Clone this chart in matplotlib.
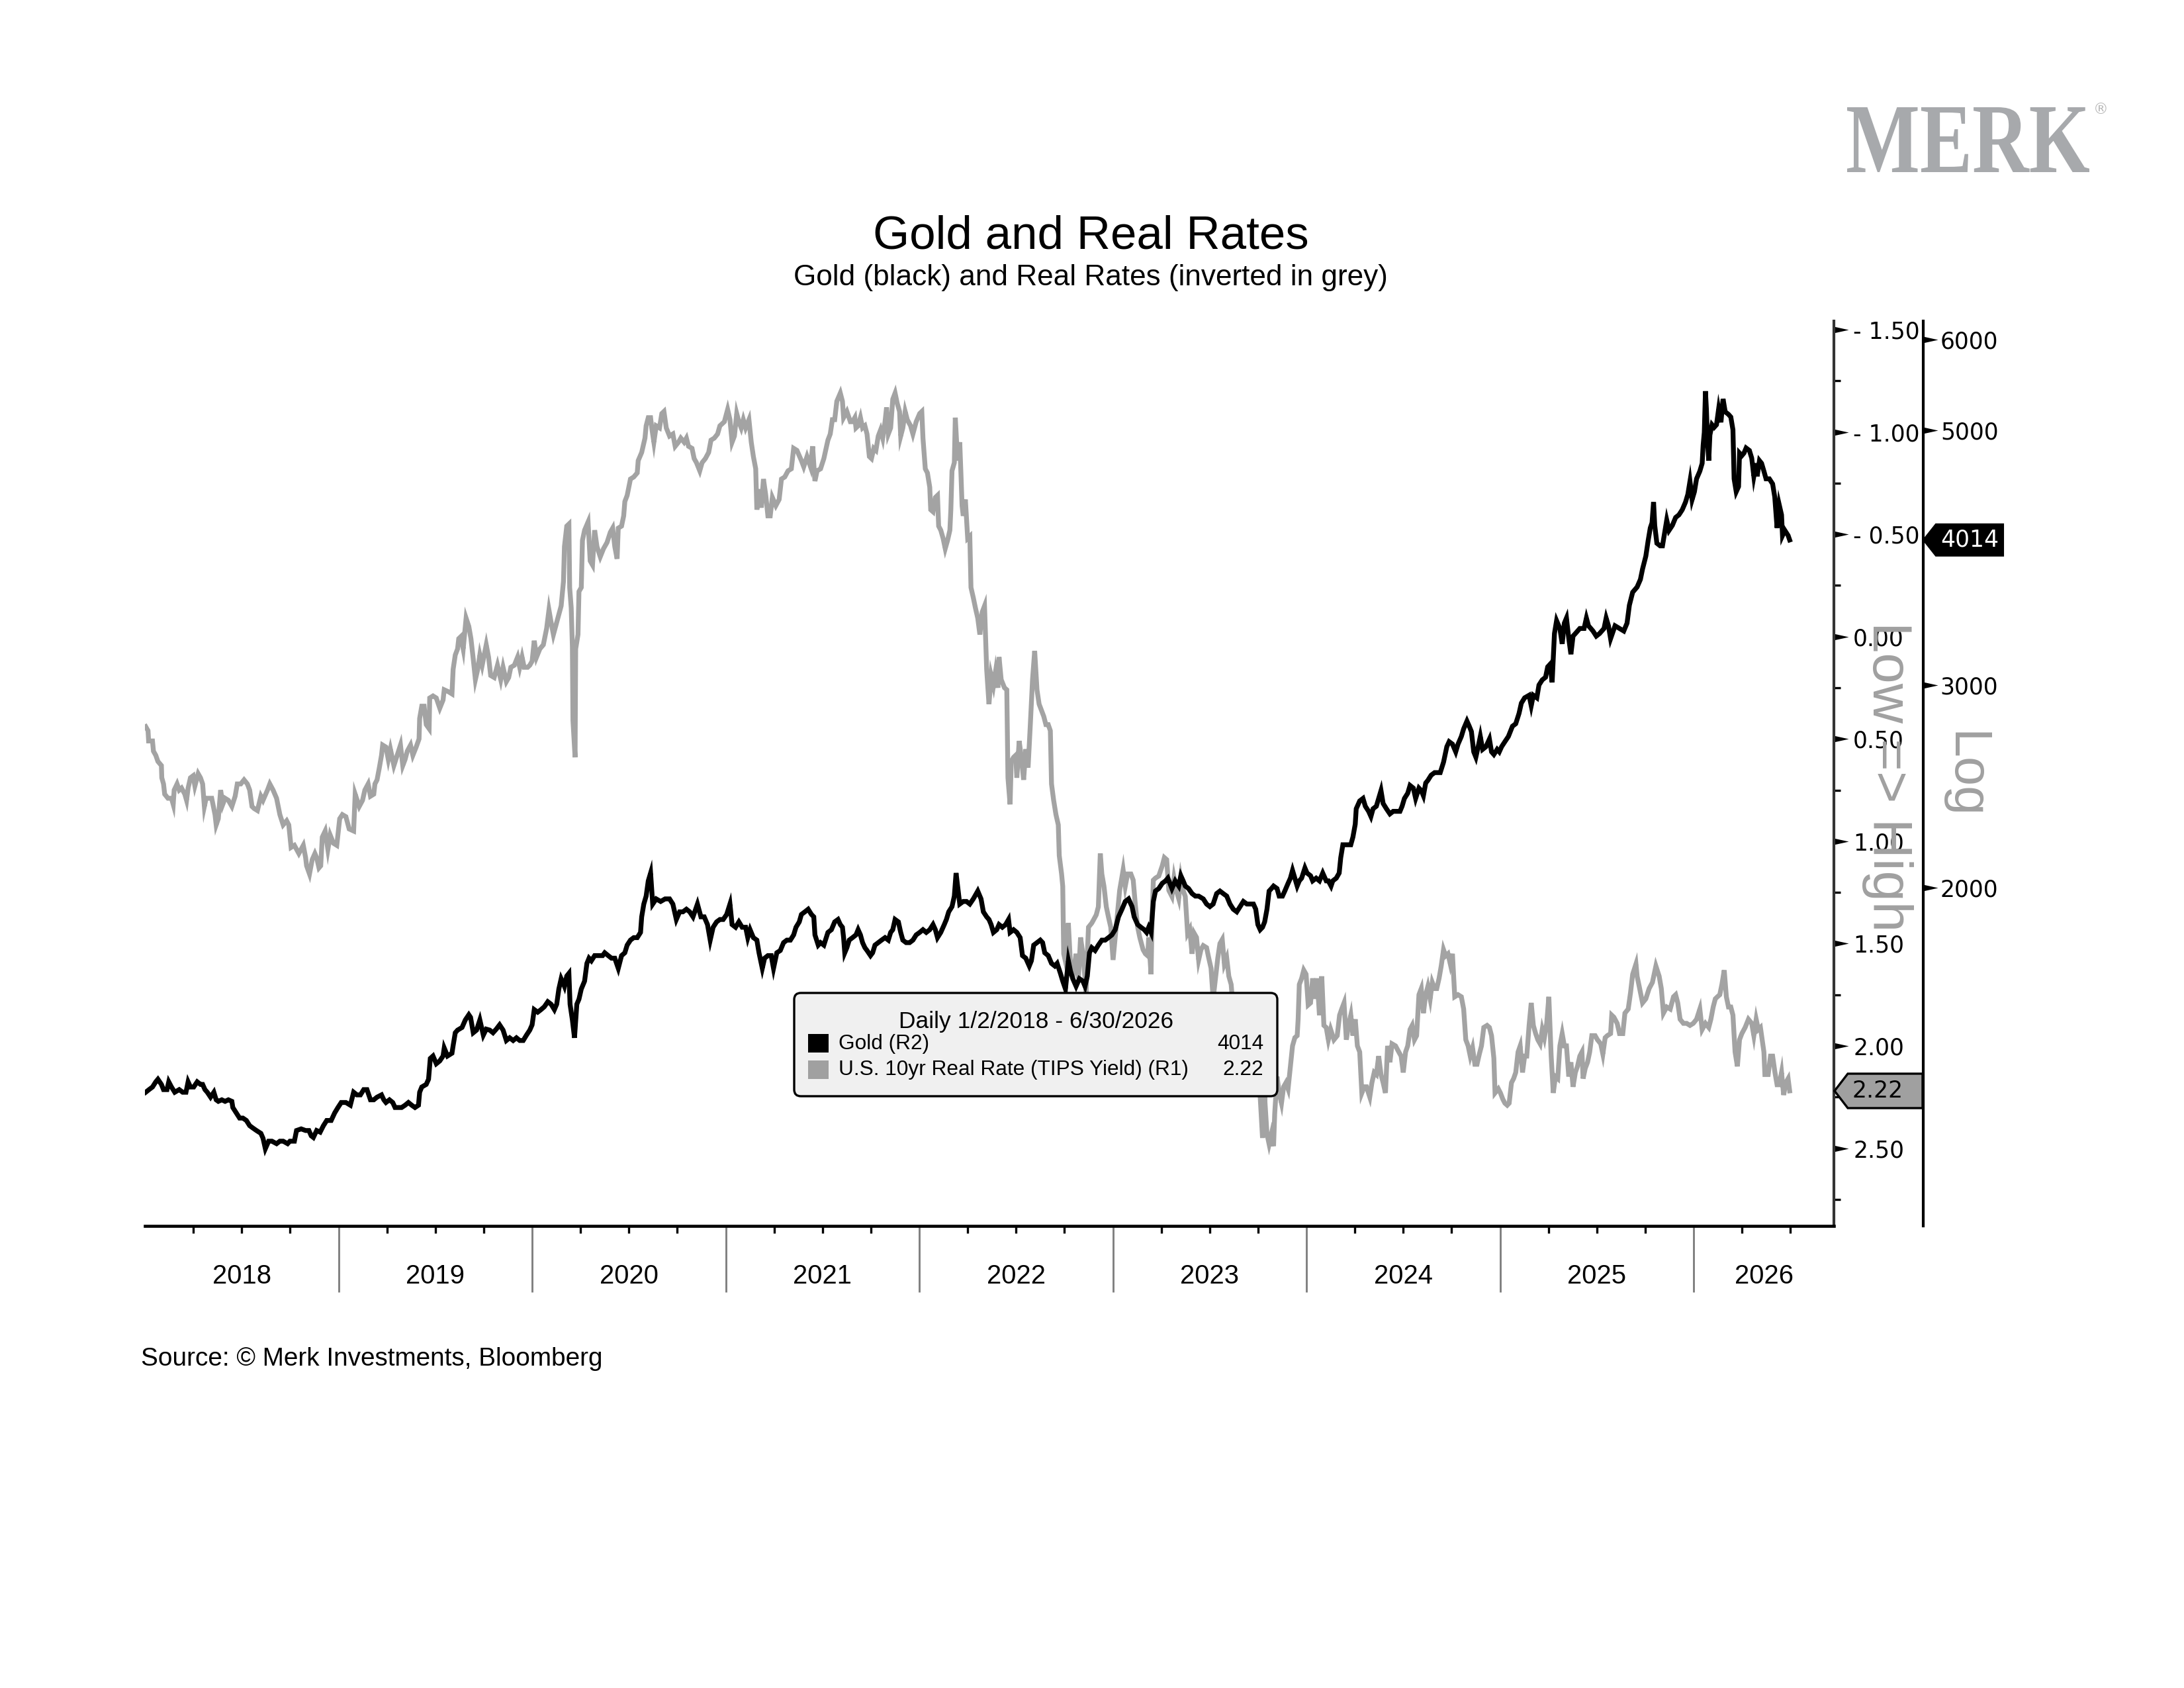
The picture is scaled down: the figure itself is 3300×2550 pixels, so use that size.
#!/usr/bin/python3

import numpy as np
import matplotlib
matplotlib.use("Agg")
import matplotlib.pyplot as plt
from matplotlib import font_manager
from matplotlib.path import Path
from matplotlib.patches import Polygon, FancyBboxPatch, Rectangle, PathPatch
from matplotlib.textpath import TextPath
from matplotlib.font_manager import FontProperties
from matplotlib.transforms import Affine2D, IdentityTransform
from matplotlib.ticker import FixedLocator, FuncFormatter, NullLocator, NullFormatter

#  U.S. 10yr real rate (TIPS yield) (decimal year, %)
rate_year = [
  2018.004, 2018.016, 2018.019, 2018.039, 2018.044, 2018.056, 2018.067, 2018.085, 2018.087, 2018.096,
  2018.102, 2018.119, 2018.137, 2018.146, 2018.151, 2018.166, 2018.177, 2018.189, 2018.206, 2018.215,
  2018.223, 2018.235, 2018.249, 2018.258, 2018.275, 2018.287, 2018.298, 2018.307, 2018.316, 2018.333,
  2018.345, 2018.362, 2018.368, 2018.379, 2018.391, 2018.402, 2018.414, 2018.431, 2018.449, 2018.466,
  2018.477, 2018.495, 2018.512, 2018.529, 2018.541, 2018.553, 2018.564, 2018.581, 2018.599, 2018.610,
  2018.633, 2018.645, 2018.662, 2018.680, 2018.697, 2018.714, 2018.732, 2018.743, 2018.755, 2018.772,
  2018.795, 2018.818, 2018.830, 2018.835, 2018.850, 2018.864, 2018.878, 2018.887, 2018.899, 2018.908,
  2018.916, 2018.931, 2018.945, 2018.957, 2018.974, 2018.991, 2019.006, 2019.020, 2019.038, 2019.055,
  2019.078, 2019.086, 2019.107, 2019.124, 2019.136, 2019.153, 2019.165, 2019.182, 2019.188, 2019.199,
  2019.211, 2019.222, 2019.228, 2019.245, 2019.257, 2019.268, 2019.286, 2019.303, 2019.320, 2019.332,
  2019.344, 2019.355, 2019.372, 2019.384, 2019.401, 2019.416, 2019.419, 2019.430, 2019.442, 2019.453,
  2019.468, 2019.471, 2019.488, 2019.505, 2019.523, 2019.540, 2019.546, 2019.569, 2019.586, 2019.592,
  2019.603, 2019.615, 2019.621, 2019.632, 2019.644, 2019.659, 2019.673, 2019.684, 2019.696, 2019.707,
  2019.719, 2019.730, 2019.742, 2019.763, 2019.775, 2019.786, 2019.804, 2019.821, 2019.838, 2019.850,
  2019.867, 2019.879, 2019.890, 2019.908, 2019.925, 2019.936, 2019.948, 2019.959, 2019.977, 2019.988,
  2020.000, 2020.011, 2020.023, 2020.040, 2020.058, 2020.075, 2020.087, 2020.098, 2020.110, 2020.133,
  2020.150, 2020.162, 2020.167, 2020.179, 2020.190, 2020.194, 2020.202, 2020.208, 2020.211, 2020.222,
  2020.225, 2020.237, 2020.242, 2020.254, 2020.260, 2020.271, 2020.289, 2020.300, 2020.312, 2020.323,
  2020.335, 2020.352, 2020.369, 2020.387, 2020.404, 2020.416, 2020.427, 2020.439, 2020.445, 2020.462,
  2020.473, 2020.479, 2020.491, 2020.508, 2020.525, 2020.543, 2020.548, 2020.566, 2020.583, 2020.589,
  2020.600, 2020.612, 2020.618, 2020.629, 2020.641, 2020.658, 2020.670, 2020.681, 2020.693, 2020.710,
  2020.727, 2020.739, 2020.756, 2020.768, 2020.785, 2020.797, 2020.808, 2020.826, 2020.837, 2020.849,
  2020.866, 2020.878, 2020.895, 2020.912, 2020.924, 2020.941, 2020.958, 2020.970, 2020.993, 2021.010,
  2021.022, 2021.033, 2021.045, 2021.057, 2021.068, 2021.080, 2021.091, 2021.103, 2021.120, 2021.132,
  2021.143, 2021.155, 2021.161, 2021.172, 2021.184, 2021.195, 2021.207, 2021.218, 2021.230, 2021.241,
  2021.259, 2021.276, 2021.288, 2021.305, 2021.322, 2021.339, 2021.351, 2021.368, 2021.391, 2021.403,
  2021.420, 2021.438, 2021.449, 2021.461, 2021.472, 2021.490, 2021.507, 2021.528, 2021.540, 2021.551,
  2021.563, 2021.574, 2021.592, 2021.603, 2021.609, 2021.626, 2021.644, 2021.655, 2021.667, 2021.673,
  2021.684, 2021.696, 2021.707, 2021.719, 2021.730, 2021.742, 2021.753, 2021.765, 2021.776, 2021.788,
  2021.800, 2021.811, 2021.823, 2021.831, 2021.840, 2021.852, 2021.863, 2021.875, 2021.886, 2021.898,
  2021.904, 2021.915, 2021.927, 2021.938, 2021.955, 2021.967, 2021.984, 2022.002, 2022.013, 2022.019,
  2022.031, 2022.042, 2022.054, 2022.059, 2022.071, 2022.083, 2022.094, 2022.100, 2022.111, 2022.123,
  2022.134, 2022.146, 2022.158, 2022.163, 2022.169, 2022.181, 2022.186, 2022.198, 2022.209, 2022.215,
  2022.221, 2022.227, 2022.238, 2022.250, 2022.261, 2022.267, 2022.279, 2022.290, 2022.302, 2022.313,
  2022.325, 2022.337, 2022.348, 2022.360, 2022.371, 2022.383, 2022.394, 2022.406, 2022.412, 2022.423,
  2022.440, 2022.452, 2022.458, 2022.469, 2022.475, 2022.487, 2022.498, 2022.504, 2022.516, 2022.527,
  2022.539, 2022.550, 2022.562, 2022.573, 2022.585, 2022.596, 2022.608, 2022.619, 2022.631, 2022.643,
  2022.654, 2022.666, 2022.677, 2022.683, 2022.694, 2022.706, 2022.718, 2022.723, 2022.735, 2022.741,
  2022.746, 2022.758, 2022.770, 2022.781, 2022.798, 2022.810, 2022.822, 2022.833, 2022.845, 2022.856,
  2022.862, 2022.868, 2022.874, 2022.891, 2022.914, 2022.925, 2022.935, 2022.943, 2022.954, 2022.966,
  2022.977, 2022.989, 2023.001, 2023.012, 2023.024, 2023.035, 2023.053, 2023.064, 2023.076, 2023.093,
  2023.105, 2023.116, 2023.128, 2023.139, 2023.156, 2023.168, 2023.180, 2023.185, 2023.197, 2023.203,
  2023.209, 2023.220, 2023.237, 2023.255, 2023.266, 2023.278, 2023.289, 2023.305, 2023.316, 2023.328,
  2023.340, 2023.351, 2023.363, 2023.374, 2023.386, 2023.397, 2023.409, 2023.420, 2023.432, 2023.443,
  2023.455, 2023.467, 2023.484, 2023.495, 2023.507, 2023.518, 2023.530, 2023.542, 2023.553, 2023.565,
  2023.576, 2023.588, 2023.599, 2023.611, 2023.617, 2023.628, 2023.640, 2023.651, 2023.669, 2023.680,
  2023.692, 2023.703, 2023.715, 2023.726, 2023.738, 2023.749, 2023.761, 2023.773, 2023.784, 2023.796,
  2023.807, 2023.819, 2023.830, 2023.836, 2023.848, 2023.859, 2023.871, 2023.882, 2023.894, 2023.905,
  2023.917, 2023.928, 2023.940, 2023.952, 2023.957, 2023.963, 2023.975, 2023.986, 2023.998, 2024.009,
  2024.021, 2024.032, 2024.044, 2024.055, 2024.067, 2024.079, 2024.090, 2024.102, 2024.113, 2024.125,
  2024.142, 2024.159, 2024.171, 2024.182, 2024.194, 2024.206, 2024.217, 2024.229, 2024.240, 2024.252,
  2024.263, 2024.275, 2024.286, 2024.298, 2024.310, 2024.327, 2024.338, 2024.350, 2024.361, 2024.373,
  2024.385, 2024.396, 2024.408, 2024.419, 2024.431, 2024.442, 2024.460, 2024.477, 2024.489, 2024.500,
  2024.512, 2024.523, 2024.535, 2024.546, 2024.558, 2024.569, 2024.581, 2024.593, 2024.604, 2024.616,
  2024.627, 2024.639, 2024.650, 2024.662, 2024.673, 2024.685, 2024.696, 2024.708, 2024.719, 2024.731,
  2024.743, 2024.754, 2024.766, 2024.783, 2024.800, 2024.812, 2024.823, 2024.835, 2024.846, 2024.858,
  2024.870, 2024.881, 2024.893, 2024.904, 2024.916, 2024.933, 2024.945, 2024.956, 2024.968, 2024.974,
  2024.991, 2025.002, 2025.014, 2025.025, 2025.037, 2025.047, 2025.059, 2025.070, 2025.081, 2025.093,
  2025.104, 2025.116, 2025.127, 2025.138, 2025.150, 2025.161, 2025.172, 2025.184, 2025.195, 2025.207,
  2025.218, 2025.229, 2025.241, 2025.252, 2025.264, 2025.275, 2025.286, 2025.298, 2025.309, 2025.321,
  2025.332, 2025.343, 2025.355, 2025.366, 2025.377, 2025.389, 2025.400, 2025.412, 2025.423, 2025.429,
  2025.440, 2025.452, 2025.463, 2025.474, 2025.491, 2025.503, 2025.520, 2025.531, 2025.543, 2025.554,
  2025.571, 2025.577, 2025.588, 2025.605, 2025.617, 2025.634, 2025.645, 2025.662, 2025.674, 2025.685,
  2025.702, 2025.708, 2025.719, 2025.736, 2025.753, 2025.770, 2025.787, 2025.805, 2025.822, 2025.833,
  2025.844, 2025.861, 2025.879, 2025.896, 2025.907, 2025.918, 2025.930, 2025.947, 2025.964, 2025.981,
  2025.998, 2026.015, 2026.032, 2026.044, 2026.061, 2026.078, 2026.089, 2026.101, 2026.112, 2026.123,
  2026.135, 2026.146, 2026.158, 2026.169, 2026.180, 2026.192, 2026.203, 2026.214, 2026.226, 2026.237,
  2026.249, 2026.266, 2026.283, 2026.300, 2026.311, 2026.323, 2026.334, 2026.345, 2026.363, 2026.368,
  2026.385, 2026.397, 2026.408, 2026.420, 2026.431, 2026.442, 2026.454, 2026.465, 2026.476, 2026.488,
  2026.496]
rate_val = [
  0.44, 0.46, 0.51, 0.51, 0.56, 0.58, 0.61, 0.63, 0.69, 0.72,
  0.77, 0.79, 0.79, 0.82, 0.75, 0.72, 0.75, 0.74, 0.77, 0.80,
  0.74, 0.69, 0.68, 0.73, 0.67, 0.69, 0.72, 0.83, 0.79, 0.79,
  0.79, 0.87, 0.92, 0.89, 0.75, 0.82, 0.79, 0.80, 0.83, 0.78,
  0.72, 0.72, 0.70, 0.72, 0.75, 0.83, 0.84, 0.85, 0.78, 0.80,
  0.75, 0.72, 0.75, 0.79, 0.87, 0.92, 0.90, 0.92, 1.03, 1.02,
  1.06, 1.02, 1.08, 1.12, 1.16, 1.09, 1.06, 1.08, 1.13, 1.12,
  0.98, 0.95, 1.04, 0.97, 1.01, 1.02, 0.89, 0.87, 0.88, 0.94,
  0.95, 0.77, 0.83, 0.80, 0.75, 0.72, 0.78, 0.77, 0.72, 0.70,
  0.64, 0.58, 0.53, 0.54, 0.60, 0.55, 0.63, 0.58, 0.53, 0.63,
  0.60, 0.56, 0.53, 0.58, 0.54, 0.50, 0.40, 0.34, 0.34, 0.43,
  0.45, 0.30, 0.29, 0.30, 0.35, 0.31, 0.26, 0.27, 0.28, 0.16,
  0.09, 0.06, 0.01, 0.00, 0.06, -0.09, -0.05, 0.01, 0.11, 0.21,
  0.16, 0.09, 0.14, 0.04, 0.10, 0.19, 0.20, 0.14, 0.21, 0.15,
  0.22, 0.20, 0.15, 0.14, 0.10, 0.15, 0.10, 0.15, 0.15, 0.14,
  0.12, 0.02, 0.10, 0.06, 0.04, -0.04, -0.13, -0.07, -0.01, -0.09,
  -0.15, -0.27, -0.44, -0.54, -0.55, -0.24, -0.14, 0.05, 0.41, 0.59,
  0.06, -0.01, -0.22, -0.24, -0.47, -0.52, -0.56, -0.37, -0.35, -0.52,
  -0.44, -0.39, -0.43, -0.46, -0.51, -0.53, -0.44, -0.38, -0.53, -0.54,
  -0.59, -0.66, -0.69, -0.77, -0.78, -0.80, -0.86, -0.90, -0.97, -1.03,
  -1.07, -1.07, -1.02, -0.95, -1.03, -1.02, -1.09, -1.10, -1.02, -0.98,
  -0.99, -0.93, -0.95, -0.97, -0.95, -0.97, -0.93, -0.92, -0.87, -0.85,
  -0.81, -0.85, -0.87, -0.90, -0.96, -0.97, -0.99, -1.03, -1.05, -1.11,
  -1.06, -0.95, -0.98, -1.09, -1.05, -1.02, -1.06, -1.02, -1.06, -0.95,
  -0.88, -0.82, -0.62, -0.72, -0.63, -0.77, -0.69, -0.59, -0.59, -0.68,
  -0.64, -0.67, -0.77, -0.78, -0.81, -0.82, -0.92, -0.91, -0.86, -0.83,
  -0.88, -0.83, -0.93, -0.76, -0.81, -0.82, -0.87, -0.96, -0.99, -1.06,
  -1.06, -1.15, -1.19, -1.15, -1.07, -1.10, -1.05, -1.05, -1.07, -1.02,
  -1.03, -1.07, -1.02, -1.03, -0.99, -0.88, -0.87, -0.92, -0.91, -0.98,
  -1.01, -0.97, -1.05, -1.12, -0.99, -1.02, -1.16, -1.19, -1.14, -1.10,
  -0.98, -1.02, -1.10, -1.06, -1.03, -0.99, -1.05, -1.09, -1.10, -0.97,
  -0.82, -0.80, -0.73, -0.62, -0.61, -0.68, -0.69, -0.54, -0.52, -0.48,
  -0.43, -0.47, -0.52, -0.62, -0.81, -0.85, -1.07, -0.86, -0.95, -0.80,
  -0.64, -0.59, -0.67, -0.48, -0.49, -0.24, -0.19, -0.14, -0.09, -0.01,
  -0.12, -0.15, 0.16, 0.33, 0.19, 0.24, 0.17, 0.25, 0.10, 0.21,
  0.25, 0.26, 0.69, 0.82, 0.61, 0.59, 0.58, 0.69, 0.51, 0.59,
  0.70, 0.55, 0.64, 0.44, 0.21, 0.07, 0.26, 0.33, 0.36, 0.39,
  0.43, 0.43, 0.46, 0.72, 0.80, 0.87, 0.92, 1.07, 1.16, 1.22,
  1.55, 1.60, 1.40, 1.60, 1.63, 1.55, 1.67, 1.47, 1.55, 1.67,
  1.74, 1.55, 1.42, 1.40, 1.36, 1.32, 1.06, 1.16, 1.22, 1.32,
  1.37, 1.42, 1.58, 1.47, 1.35, 1.24, 1.14, 1.22, 1.16, 1.16,
  1.19, 1.31, 1.42, 1.47, 1.53, 1.55, 1.56, 1.47, 1.65, 1.37,
  1.19, 1.18, 1.17, 1.12, 1.08, 1.09, 1.24, 1.27, 1.18, 1.24,
  1.28, 1.18, 1.24, 1.27, 1.45, 1.43, 1.55, 1.45, 1.47, 1.58,
  1.53, 1.51, 1.52, 1.57, 1.62, 1.77, 1.67, 1.57, 1.50, 1.48,
  1.60, 1.57, 1.66, 1.70, 1.77, 1.82, 1.92, 1.87, 1.86, 1.95,
  1.94, 1.95, 2.00, 2.03, 2.10, 2.15, 2.25, 2.45, 2.25, 2.43,
  2.48, 2.43, 2.49, 2.33, 2.15, 2.23, 2.28, 2.20, 2.18, 2.21,
  2.10, 2.00, 1.96, 1.95, 1.87, 1.70, 1.67, 1.63, 1.65, 1.80,
  1.79, 1.67, 1.77, 1.67, 1.85, 1.66, 1.90, 1.91, 1.97, 1.92,
  1.97, 1.95, 1.85, 1.82, 1.79, 1.97, 1.90, 1.85, 1.95, 1.87,
  2.00, 2.03, 2.23, 2.20, 2.20, 2.25, 2.18, 2.13, 2.14, 2.05,
  2.14, 2.18, 2.23, 2.00, 2.08, 1.99, 2.00, 2.03, 2.05, 2.13,
  2.03, 2.00, 1.92, 1.90, 1.97, 1.95, 1.75, 1.72, 1.84, 1.75,
  1.71, 1.77, 1.69, 1.72, 1.72, 1.67, 1.61, 1.53, 1.56, 1.55,
  1.60, 1.55, 1.76, 1.75, 1.76, 1.82, 1.97, 2.00, 2.05, 2.01,
  2.09, 2.09, 2.04, 2.00, 1.91, 1.90, 1.91, 1.95, 2.06, 2.23,
  2.21, 2.23, 2.26, 2.28, 2.29, 2.28, 2.18, 2.16, 2.13, 2.03,
  2.00, 2.13, 2.05, 2.05, 1.90, 1.79, 1.90, 1.94, 1.97, 1.99,
  1.92, 1.96, 1.89, 1.76, 2.05, 2.23, 2.15, 2.16, 2.00, 1.94,
  2.00, 2.00, 2.15, 2.08, 2.20, 2.13, 2.10, 2.05, 2.03, 2.16,
  2.11, 2.08, 2.03, 1.95, 1.95, 1.97, 1.99, 2.04, 1.96, 1.95,
  1.94, 1.85, 1.86, 1.89, 1.94, 1.94, 1.84, 1.82, 1.74, 1.65,
  1.60, 1.66, 1.71, 1.79, 1.77, 1.72, 1.69, 1.61, 1.66, 1.72,
  1.84, 1.81, 1.82, 1.76, 1.75, 1.79, 1.87, 1.89, 1.89, 1.90,
  1.89, 1.87, 1.82, 1.92, 1.89, 1.91, 1.87, 1.81, 1.77, 1.76,
  1.75, 1.70, 1.63, 1.76, 1.81, 1.81, 1.85, 2.03, 2.10, 1.97,
  1.94, 1.91, 1.87, 1.89, 1.95, 1.87, 1.92, 1.91, 2.03, 2.14,
  2.14, 2.05, 2.05, 2.13, 2.19, 2.19, 2.13, 2.24, 2.18, 2.16,
  2.22]

#  Gold, USD per ounce (decimal year, price)
gold_year = [
  2018.004, 2018.021, 2018.039, 2018.056, 2018.067, 2018.085, 2018.096, 2018.114, 2018.123, 2018.137,
  2018.154, 2018.177, 2018.195, 2018.212, 2018.223, 2018.235, 2018.252, 2018.270, 2018.287, 2018.298,
  2018.310, 2018.322, 2018.339, 2018.356, 2018.368, 2018.379, 2018.397, 2018.414, 2018.431, 2018.449,
  2018.454, 2018.472, 2018.489, 2018.506, 2018.524, 2018.541, 2018.558, 2018.576, 2018.599, 2018.610,
  2018.622, 2018.639, 2018.656, 2018.680, 2018.697, 2018.714, 2018.737, 2018.749, 2018.772, 2018.783,
  2018.807, 2018.830, 2018.847, 2018.859, 2018.870, 2018.887, 2018.905, 2018.922, 2018.939, 2018.962,
  2018.980, 2018.997, 2019.014, 2019.038, 2019.061, 2019.078, 2019.095, 2019.113, 2019.130, 2019.147,
  2019.165, 2019.182, 2019.199, 2019.222, 2019.234, 2019.245, 2019.263, 2019.280, 2019.292, 2019.309,
  2019.326, 2019.344, 2019.361, 2019.378, 2019.395, 2019.413, 2019.419, 2019.430, 2019.453, 2019.465,
  2019.474, 2019.488, 2019.505, 2019.523, 2019.540, 2019.546, 2019.563, 2019.586, 2019.592, 2019.603,
  2019.615, 2019.638, 2019.655, 2019.673, 2019.682, 2019.696, 2019.713, 2019.730, 2019.748, 2019.763,
  2019.781, 2019.798, 2019.815, 2019.832, 2019.850, 2019.867, 2019.884, 2019.902, 2019.919, 2019.936,
  2019.954, 2019.971, 2019.988, 2020.000, 2020.011, 2020.029, 2020.046, 2020.063, 2020.081, 2020.098,
  2020.115, 2020.127, 2020.138, 2020.150, 2020.162, 2020.167, 2020.179, 2020.190, 2020.196, 2020.208,
  2020.219, 2020.231, 2020.242, 2020.254, 2020.271, 2020.283, 2020.294, 2020.306, 2020.323, 2020.346,
  2020.364, 2020.375, 2020.393, 2020.410, 2020.427, 2020.445, 2020.462, 2020.479, 2020.491, 2020.508,
  2020.525, 2020.543, 2020.560, 2020.566, 2020.577, 2020.589, 2020.600, 2020.612, 2020.623, 2020.641,
  2020.664, 2020.687, 2020.710, 2020.727, 2020.745, 2020.762, 2020.779, 2020.797, 2020.814, 2020.831,
  2020.854, 2020.872, 2020.889, 2020.906, 2020.920, 2020.935, 2020.953, 2020.970, 2020.987, 2021.005,
  2021.022, 2021.033, 2021.051, 2021.068, 2021.085, 2021.103, 2021.114, 2021.126, 2021.143, 2021.161,
  2021.172, 2021.189, 2021.201, 2021.218, 2021.235, 2021.247, 2021.264, 2021.282, 2021.299, 2021.316,
  2021.334, 2021.351, 2021.363, 2021.380, 2021.391, 2021.409, 2021.426, 2021.443, 2021.455, 2021.461,
  2021.478, 2021.490, 2021.507, 2021.528, 2021.546, 2021.563, 2021.580, 2021.592, 2021.603, 2021.609,
  2021.615, 2021.626, 2021.638, 2021.655, 2021.673, 2021.684, 2021.696, 2021.707, 2021.719, 2021.730,
  2021.748, 2021.759, 2021.771, 2021.788, 2021.805, 2021.823, 2021.840, 2021.852, 2021.863, 2021.875,
  2021.892, 2021.904, 2021.915, 2021.932, 2021.950, 2021.967, 2021.984, 2022.002, 2022.019, 2022.036,
  2022.054, 2022.071, 2022.083, 2022.094, 2022.111, 2022.129, 2022.140, 2022.152, 2022.169, 2022.181,
  2022.190, 2022.198, 2022.209, 2022.227, 2022.244, 2022.261, 2022.279, 2022.302, 2022.319, 2022.331,
  2022.348, 2022.360, 2022.371, 2022.383, 2022.400, 2022.412, 2022.429, 2022.446, 2022.461, 2022.469,
  2022.487, 2022.504, 2022.521, 2022.533, 2022.550, 2022.568, 2022.579, 2022.591, 2022.608, 2022.625,
  2022.637, 2022.648, 2022.666, 2022.683, 2022.700, 2022.712, 2022.729, 2022.741, 2022.755, 2022.770,
  2022.781, 2022.793, 2022.810, 2022.827, 2022.845, 2022.856, 2022.868, 2022.879, 2022.891, 2022.908,
  2022.925, 2022.943, 2022.960, 2022.977, 2022.995, 2023.012, 2023.029, 2023.047, 2023.064, 2023.081,
  2023.099, 2023.110, 2023.128, 2023.145, 2023.162, 2023.174, 2023.185, 2023.197, 2023.209, 2023.220,
  2023.237, 2023.255, 2023.272, 2023.284, 2023.305, 2023.322, 2023.340, 2023.351, 2023.363, 2023.374,
  2023.391, 2023.409, 2023.426, 2023.443, 2023.467, 2023.484, 2023.501, 2023.518, 2023.536, 2023.553,
  2023.570, 2023.588, 2023.605, 2023.622, 2023.640, 2023.657, 2023.674, 2023.692, 2023.709, 2023.726,
  2023.738, 2023.749, 2023.761, 2023.773, 2023.784, 2023.796, 2023.807, 2023.819, 2023.830, 2023.848,
  2023.859, 2023.876, 2023.888, 2023.905, 2023.917, 2023.928, 2023.940, 2023.952, 2023.963, 2023.975,
  2023.992, 2024.003, 2024.021, 2024.032, 2024.050, 2024.067, 2024.084, 2024.102, 2024.113, 2024.127,
  2024.136, 2024.154, 2024.169, 2024.177, 2024.188, 2024.206, 2024.229, 2024.240, 2024.252, 2024.257,
  2024.275, 2024.292, 2024.304, 2024.321, 2024.333, 2024.344, 2024.361, 2024.373, 2024.385, 2024.396,
  2024.413, 2024.431, 2024.448, 2024.465, 2024.483, 2024.494, 2024.506, 2024.523, 2024.535, 2024.552,
  2024.564, 2024.581, 2024.593, 2024.604, 2024.616, 2024.627, 2024.644, 2024.662, 2024.679, 2024.691,
  2024.708, 2024.725, 2024.737, 2024.754, 2024.771, 2024.783, 2024.800, 2024.812, 2024.829, 2024.841,
  2024.852, 2024.864, 2024.875, 2024.887, 2024.898, 2024.910, 2024.927, 2024.945, 2024.956, 2024.968,
  2024.985, 2024.996, 2025.008, 2025.025, 2025.043, 2025.064, 2025.081, 2025.098, 2025.110, 2025.127,
  2025.150, 2025.161, 2025.172, 2025.190, 2025.201, 2025.218, 2025.235, 2025.246, 2025.258, 2025.269,
  2025.281, 2025.292, 2025.309, 2025.321, 2025.332, 2025.343, 2025.355, 2025.366, 2025.377, 2025.389,
  2025.412, 2025.434, 2025.446, 2025.457, 2025.480, 2025.497, 2025.514, 2025.537, 2025.548, 2025.560,
  2025.571, 2025.594, 2025.617, 2025.639, 2025.656, 2025.668, 2025.685, 2025.708, 2025.725, 2025.736,
  2025.753, 2025.765, 2025.776, 2025.785, 2025.793, 2025.799, 2025.810, 2025.827, 2025.839, 2025.850,
  2025.861, 2025.873, 2025.890, 2025.907, 2025.924, 2025.941, 2025.958, 2025.970, 2025.981, 2025.992,
  2026.004, 2026.015, 2026.032, 2026.044, 2026.049, 2026.055, 2026.061, 2026.066, 2026.072, 2026.078,
  2026.084, 2026.095, 2026.106, 2026.118, 2026.129, 2026.141, 2026.152, 2026.163, 2026.180, 2026.192,
  2026.203, 2026.209, 2026.220, 2026.232, 2026.237, 2026.249, 2026.260, 2026.271, 2026.288, 2026.300,
  2026.311, 2026.323, 2026.328, 2026.340, 2026.351, 2026.363, 2026.374, 2026.391, 2026.408, 2026.419,
  2026.431, 2026.442, 2026.454, 2026.459, 2026.471, 2026.488, 2026.496]
gold_price = [
  1328, 1335, 1342, 1356, 1363, 1349, 1335, 1335, 1356, 1342,
  1328, 1335, 1328, 1328, 1356, 1342, 1342, 1356, 1349, 1349,
  1335, 1328, 1315, 1328, 1308, 1304, 1308, 1304, 1308, 1304,
  1288, 1274, 1261, 1261, 1255, 1242, 1236, 1230, 1223, 1211,
  1186, 1204, 1204, 1198, 1204, 1204, 1198, 1204, 1204, 1230,
  1234, 1230, 1230, 1217, 1213, 1230, 1226, 1242, 1255, 1255,
  1274, 1288, 1301, 1301, 1294, 1328, 1321, 1321, 1335, 1335,
  1308, 1308, 1315, 1321, 1308, 1301, 1308, 1301, 1288, 1288,
  1288, 1294, 1301, 1294, 1288, 1294, 1328, 1342, 1349, 1363,
  1421, 1428, 1406, 1414, 1428, 1451, 1428, 1436, 1458, 1496,
  1504, 1512, 1535, 1551, 1543, 1496, 1504, 1535, 1489, 1507,
  1504, 1496, 1507, 1520, 1504, 1473, 1481, 1473, 1481, 1473,
  1473, 1489, 1504, 1520, 1567, 1559, 1567, 1576, 1592, 1584,
  1567, 1584, 1633, 1667, 1650, 1642, 1676, 1685, 1584, 1535,
  1481, 1584, 1600, 1633, 1659, 1719, 1737, 1728, 1746, 1746,
  1746, 1756, 1746, 1737, 1737, 1702, 1746, 1756, 1783, 1801,
  1810, 1810, 1829, 1887, 1936, 1967, 2028, 2060, 1936, 1956,
  1946, 1956, 1956, 1936, 1877, 1906, 1906, 1916, 1906, 1887,
  1936, 1887, 1887, 1858, 1801, 1848, 1868, 1877, 1877, 1896,
  1936, 1858, 1848, 1868, 1848, 1848, 1810, 1839, 1810, 1801,
  1756, 1702, 1737, 1746, 1746, 1702, 1756, 1764, 1792, 1801,
  1801, 1820, 1848, 1868, 1896, 1906, 1916, 1896, 1887, 1820,
  1783, 1792, 1783, 1829, 1839, 1868, 1877, 1858, 1848, 1810,
  1756, 1774, 1801, 1810, 1820, 1839, 1820, 1792, 1774, 1764,
  1746, 1756, 1783, 1792, 1801, 1810, 1801, 1829, 1839, 1877,
  1868, 1829, 1801, 1792, 1792, 1801, 1820, 1829, 1839, 1829,
  1839, 1858, 1839, 1810, 1829, 1858, 1877, 1906, 1926, 1967,
  2060, 2007, 1936, 1946, 1946, 1936, 1956, 1987, 1956, 1906,
  1887, 1877, 1858, 1829, 1839, 1858, 1848, 1858, 1877, 1829,
  1839, 1829, 1810, 1746, 1737, 1710, 1728, 1783, 1792, 1801,
  1792, 1756, 1746, 1719, 1710, 1719, 1685, 1659, 1633, 1728,
  1693, 1667, 1642, 1667, 1659, 1642, 1676, 1756, 1774, 1764,
  1783, 1801, 1801, 1810, 1820, 1839, 1887, 1916, 1946, 1956,
  1926, 1887, 1858, 1848, 1839, 1829, 1848, 1829, 1946, 1987,
  1997, 2018, 2028, 2039, 1997, 2028, 2007, 2049, 2028, 2007,
  1997, 1977, 1967, 1967, 1956, 1936, 1926, 1936, 1977, 1987,
  1977, 1967, 1936, 1916, 1906, 1926, 1946, 1936, 1936, 1936,
  1916, 1858, 1839, 1848, 1868, 1916, 1987, 1997, 2007, 1997,
  1967, 1967, 1987, 2018, 2039, 2071, 2039, 2007, 2028, 2039,
  2081, 2060, 2049, 2028, 2039, 2028, 2060, 2028, 2028, 2007,
  2028, 2039, 2060, 2124, 2180, 2180, 2180, 2214, 2272, 2343,
  2380, 2392, 2355, 2331, 2307, 2343, 2355, 2392, 2430, 2368,
  2343, 2319, 2331, 2331, 2331, 2355, 2392, 2417, 2455, 2442,
  2392, 2442, 2430, 2405, 2467, 2480, 2506, 2519, 2519, 2519,
  2572, 2653, 2680, 2667, 2626, 2667, 2708, 2750, 2793, 2764,
  2735, 2626, 2598, 2653, 2708, 2639, 2653, 2694, 2626, 2612,
  2639, 2626, 2653, 2680, 2708, 2764, 2778, 2836, 2895, 2926,
  2941, 2880, 2941, 2926, 3002, 3033, 3049, 3113, 3129, 3018,
  3328, 3415, 3362, 3260, 3398, 3433, 3294, 3193, 3311, 3328,
  3362, 3362, 3433, 3380, 3345, 3311, 3328, 3362, 3433, 3380,
  3294, 3380, 3362, 3345, 3398, 3522, 3615, 3653, 3709, 3787,
  3886, 4009, 4112, 4155, 4330, 4133, 3988, 3967, 3967, 4071,
  4177, 4092, 4133, 4199, 4221, 4264, 4330, 4398, 4514, 4352,
  4421, 4537, 4607, 4680, 4852, 4979, 5408, 5216, 4877, 4705,
  4953, 5056, 5030, 5056, 5216, 5081, 5324, 5189, 5162, 5135,
  5005, 4537, 4421, 4467, 4777, 4753, 4777, 4826, 4802, 4729,
  4560, 4680, 4560, 4705, 4680, 4607, 4537, 4537, 4491, 4375,
  4112, 4308, 4221, 4050, 4092, 4050, 4014]

year_labels = ["2018", "2019", "2020", "2021", "2022", "2023", "2024", "2025", "2026"]
rate_ticks = [-1.5, -1.0, -0.5, 0.0, 0.5, 1.0, 1.5, 2.0, 2.5]
rate_minor = [-1.25, -0.75, -0.25, 0.25, 0.75, 1.25, 1.75, 2.25, 2.75]
gold_ticks = [2000, 3000, 5000, 6000]
last_gold = 4014
last_rate = 2.22

GREY = "#a3a3a3"
W, H = 3300, 2550

names = set(f.name for f in font_manager.fontManager.ttflist)
ARIAL = "Liberation Sans"
if "Liberation Sans Narrow" in names:
  NARROW, year_fs, leg_fs, legt_fs = "Liberation Sans Narrow", 10.7, 9.0, 9.6
else:
  NARROW, year_fs, leg_fs, legt_fs = "Liberation Sans", 9.6, 7.6, 8.5

def fx(px):
  return px / W

def fy(py):
  return 1 - py / H

fig = plt.figure(figsize=(11, 8.5), dpi=300)
fig.patch.set_facecolor("white")

ax = fig.add_axes([fx(219), fy(1852), (2771 - 219) / W, (1852 - 485) / H])
ax2 = ax.twinx()
ax.yaxis.tick_right()
R2_POS = (2906 - 219) / (2771 - 219)

#  spines
ax.spines["top"].set_visible(False)
ax.spines["left"].set_visible(False)
ax.spines["right"].set_color("#333333")
ax.spines["right"].set_linewidth(1.0)
ax.spines["bottom"].set_linewidth(1.1)
for s in ["top", "left", "bottom"]:
  ax2.spines[s].set_visible(False)
ax2.spines["right"].set_position(("axes", R2_POS))
ax2.spines["right"].set_linewidth(1.0)

#  the two series, gold drawn over the real rate
ax.plot(rate_year, rate_val, color=GREY, lw=1.75, solid_joinstyle="miter")
ax2.plot(gold_year, gold_price, color="black", lw=1.75, solid_joinstyle="miter")

#  wedge shaped tick marks, Bloomberg style
wedge = Path([(0, -0.22), (1, 0), (0, 0.22), (0, -0.22)],
             [Path.MOVETO, Path.LINETO, Path.LINETO, Path.CLOSEPOLY])
ax.plot([1] * len(rate_ticks), rate_ticks, ls="none", marker=wedge, ms=10.6, mew=0,
        color="black", transform=ax.get_yaxis_transform(), clip_on=False)
ax2.plot([R2_POS] * len(gold_ticks), gold_ticks, ls="none", marker=wedge, ms=10.6, mew=0,
         color="black", transform=ax2.get_yaxis_transform(), clip_on=False)

ax.set_xlim(2018.0, 2026.7245)
ax.set_ylim(2.88, -1.542)
ax2.set_yscale("log")
ax2.set_ylim(1016, 6223)

#  x axis: long grey year separators, short quarter ticks
ax.xaxis.set_major_locator(FixedLocator(list(range(2019, 2027))))
ax.xaxis.set_major_formatter(NullFormatter())
quarters = [y + q for y in range(2018, 2027) for q in (0.25, 0.5, 0.75) if y + q < 2026.7]
ax.xaxis.set_minor_locator(FixedLocator(quarters))
ax.xaxis.set_minor_formatter(NullFormatter())
ax.tick_params(axis="x", which="major", length=24, width=0.7, color="#808080", direction="out")
ax.tick_params(axis="x", which="minor", length=2.6, width=0.8, color="black", direction="out")

x_end = ax.get_xlim()[1]
for i, lab in enumerate(year_labels):
  yr = 2018 + i
  xc = yr + 0.5 if yr < 2026 else (yr + x_end) / 2
  ax.text(xc, -0.0556, lab, transform=ax.get_xaxis_transform(), ha="center", va="center",
          fontsize=year_fs, family=NARROW)

#  R1 axis (real rate, inverted)
def fmt_rate(v, pos):
  if v < 0:
    return "- %.2f" % abs(v)
  return "%.2f" % v

ax.yaxis.set_major_locator(FixedLocator(rate_ticks))
ax.yaxis.set_minor_locator(FixedLocator(rate_minor))
ax.yaxis.set_major_formatter(FuncFormatter(fmt_rate))
ax.tick_params(axis="y", which="major", length=0, pad=7, labelsize=8.3,
               right=True, left=False, labelright=True, labelleft=False)
ax.tick_params(axis="y", which="minor", length=2.3, width=0.8, direction="out",
               right=True, left=False)

#  R2 axis (gold, log)
ax2.yaxis.set_major_locator(FixedLocator(gold_ticks))
ax2.yaxis.set_minor_locator(NullLocator())
ax2.yaxis.set_major_formatter(FuncFormatter(lambda v, p: "%d" % v))
ax2.tick_params(axis="y", which="major", length=0, pad=6.2, labelsize=8.3)

#  last value tags
x_r1 = ax.transAxes.transform((1.0, 0))[0]
x_r2 = ax.transAxes.transform((R2_POS, 0))[0]
y_g = ax2.transData.transform((2020, last_gold))[1]
y_r = ax.transData.transform((2020, last_rate))[1]

tag = Polygon([(x_r2, y_g), (x_r2 + 19, y_g + 24), (x_r2 + 121, y_g + 24),
               (x_r2 + 121, y_g - 24), (x_r2 + 19, y_g - 24)], closed=True,
              transform=IdentityTransform(), facecolor="black", edgecolor="black", lw=0.5)
fig.add_artist(tag)
fig.text(x_r2 + 70, y_g, str(last_gold), transform=IdentityTransform(), color="white",
         ha="center", va="center", fontsize=8.3)

tag = Polygon([(x_r1 + 1, y_r), (x_r1 + 21, y_r + 26), (x_r1 + 134, y_r + 26),
               (x_r1 + 134, y_r - 26), (x_r1 + 21, y_r - 26)], closed=True,
              transform=IdentityTransform(), facecolor="#a0a0a0", edgecolor="black", lw=0.8)
fig.add_artist(tag)
fig.text(x_r1 + 66, y_r, "%.2f" % last_rate, transform=IdentityTransform(), color="black",
         ha="center", va="center", fontsize=8.3)

#  axis annotations (they sit over the R1 labels, as in the original)
fig.text(fx(2852), fy(1173), "Low => High", rotation=270, ha="center", va="center",
         fontsize=20, color="#a0a0a0", family=ARIAL)
fig.text(fx(2968), fy(1171), "Log", rotation=270, ha="center", va="center",
         fontsize=19, color="#a0a0a0", family=ARIAL)

#  legend box
box = FancyBboxPatch((1200, H - 1656), 730, 156, boxstyle="round,pad=0,rounding_size=10",
                     transform=IdentityTransform(), facecolor="#f0f0f0", edgecolor="black", lw=0.8)
fig.add_artist(box)
fig.text(fx(1565), fy(1553), "Daily 1/2/2018 - 6/30/2026", ha="center", va="baseline",
         fontsize=legt_fs, family=NARROW)
fig.add_artist(Rectangle((1221, H - 1590), 31, 28, transform=IdentityTransform(),
                         facecolor="black", edgecolor="none"))
fig.add_artist(Rectangle((1221, H - 1630), 31, 28, transform=IdentityTransform(),
                         facecolor="#a0a0a0", edgecolor="none"))
fig.text(fx(1267), fy(1577), "Gold (R2)", ha="left", va="center", fontsize=leg_fs, family=NARROW)
fig.text(fx(1267), fy(1616), "U.S. 10yr Real Rate (TIPS Yield) (R1)", ha="left", va="center",
         fontsize=leg_fs, family=NARROW)
fig.text(fx(1909), fy(1577), str(last_gold), ha="right", va="center", fontsize=leg_fs, family=NARROW)
fig.text(fx(1909), fy(1616), "%.2f" % last_rate, ha="right", va="center", fontsize=leg_fs, family=NARROW)

#  titles and source
fig.text(0.4994, fy(375), "Gold and Real Rates", ha="center", va="baseline", fontsize=17, family=ARIAL)
fig.text(0.4994, fy(431), "Gold (black) and Real Rates (inverted in grey)", ha="center",
         va="baseline", fontsize=10.6, family=ARIAL)
fig.text(fx(213), fy(2063), "Source: \u00a9 Merk Investments, Bloomberg", ha="left", va="baseline",
         fontsize=9.3, family=ARIAL)

#  MERK logo, squeezed to the logo's box
tp = TextPath((0, 0), "MERK", size=100, prop=FontProperties(family="Liberation Serif", weight="bold"))
ext = tp.get_extents()
sx = 366.0 / ext.width
sy = 98.0 / ext.height
tr = Affine2D().translate(-ext.x0, -ext.y0).scale(sx, sy).translate(2791, H - 260)
fig.add_artist(PathPatch(tp, transform=tr, facecolor="#a7a9ac", edgecolor="none"))
fig.text(3174, H - 166, "\u00ae", transform=IdentityTransform(), ha="center", va="center",
         fontsize=5.5, color="#b8b8b8", family="DejaVu Sans")

fig.savefig("out.png", dpi=300, facecolor="white")
